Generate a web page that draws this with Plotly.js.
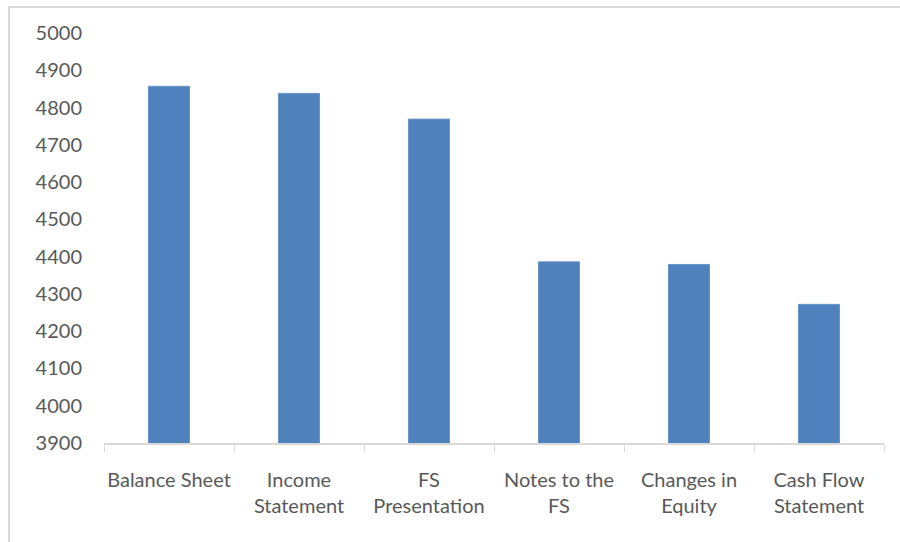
<!DOCTYPE html>
<html>
<head>
<meta charset="utf-8">
<script src="https://cdn.plot.ly/plotly-3.0.1.min.js"></script>
<style>
  html, body { margin: 0; padding: 0; background: #fff; }
  #wrap { position: relative; width: 900px; height: 542px; }
  #chart { width: 900px; height: 542px; }
  #frame { position: absolute; left: 8px; top: 6px; width: 900px; height: 542px;
           border-left: 2px solid #d9d9d9; border-top: 2px solid #d9d9d9; pointer-events: none; }
</style>
</head>
<body>
<div id="wrap">
  <div id="chart"></div>
  <div id="frame"></div>
</div>
<script>
const categories = ["Balance Sheet", "Income<br>Statement", "FS<br>Presentation", "Notes to the<br>FS", "Changes in<br>Equity", "Cash Flow<br>Statement"];
const values = [4857, 4838, 4769, 4386, 4379, 4272];
const yTicks = [3900, 4000, 4100, 4200, 4300, 4400, 4500, 4600, 4700, 4800, 4900, 5000];

const font = { family: "Lato, 'Open Sans', sans-serif", size: 20, color: "#595959" };

Plotly.newPlot("chart", [{
  type: "bar",
  x: categories,
  y: values,
  marker: { color: "#4f81bd", line: { color: "#6a95c9", width: 1 } },
  hoverinfo: "skip"
}], {
  width: 900, height: 542,
  margin: { l: 104, r: 16, t: 33, b: 99 },
  paper_bgcolor: "#fff",
  plot_bgcolor: "#fff",
  font: font,
  bargap: 0.685,
  showlegend: false,
  xaxis: {
    type: "category",
    tickson: "boundaries",
    ticks: "outside",
    ticklen: 7,
    tickcolor: "#d9d9d9",
    tickwidth: 1,
    tickangle: 0,
    showline: true,
    linecolor: "#d9d9d9",
    linewidth: 2,
    showgrid: false,
    tickfont: font,
    ticklabelstandoff: 18,
    fixedrange: true
  },
  yaxis: {
    range: [3900, 5000],
    tickvals: yTicks,
    ticktext: yTicks.map(String),
    showgrid: false,
    zeroline: false,
    showline: false,
    ticks: "",
    tickfont: font,
    ticklabelstandoff: 21,
    fixedrange: true
  }
}, { displayModeBar: false, staticPlot: true });
</script>
</body>
</html>
